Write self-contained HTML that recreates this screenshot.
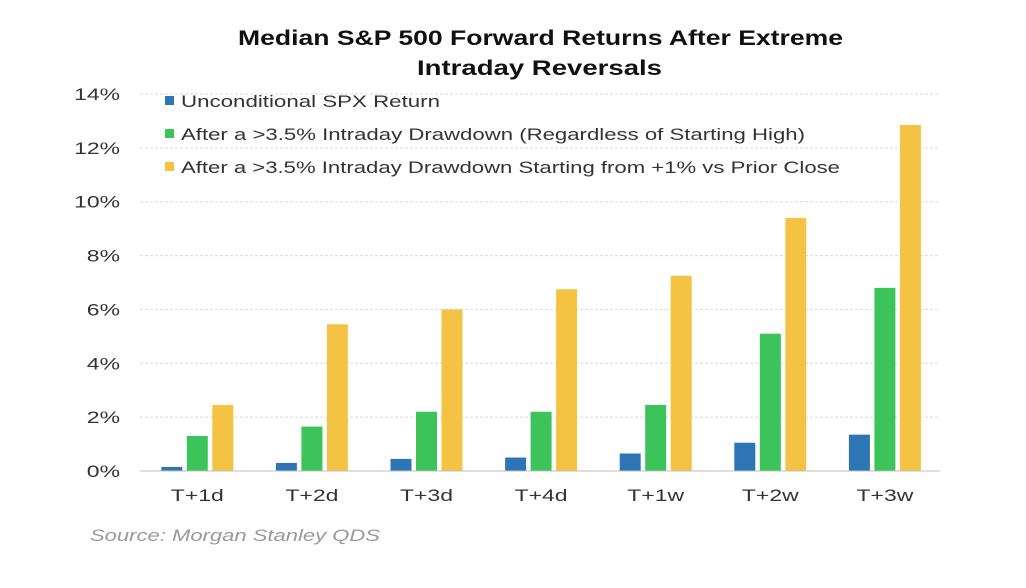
<!DOCTYPE html>
<html><head><meta charset="utf-8"><style>
html,body{margin:0;padding:0;background:#fff;}
svg{display:block;font-family:"Liberation Sans",Arial,sans-serif;}
</style></head><body>
<svg id="chart" width="1026" height="588" viewBox="0 0 1026 588">
<text x="238" y="45" font-size="21" font-weight="bold" fill="#111" textLength="605" lengthAdjust="spacingAndGlyphs">Median S&amp;P 500 Forward Returns After Extreme</text>
<text x="417" y="75" font-size="21" font-weight="bold" fill="#111" textLength="245" lengthAdjust="spacingAndGlyphs">Intraday Reversals</text>
<g id="grid"></g><g id="bars"></g><g id="axes"></g>
<g font-size="17" fill="#333">
<rect x="165" y="96" width="9" height="9" fill="#2e75b6"/>
<text x="181" y="107" textLength="259" lengthAdjust="spacingAndGlyphs">Unconditional SPX Return</text>
<rect x="165" y="129" width="9" height="9" fill="#3cc35a"/>
<text x="181" y="140" textLength="624" lengthAdjust="spacingAndGlyphs">After a &gt;3.5% Intraday Drawdown (Regardless of Starting High)</text>
<rect x="165" y="162" width="9" height="9" fill="#f5c343"/>
<text x="181" y="173" textLength="659" lengthAdjust="spacingAndGlyphs">After a &gt;3.5% Intraday Drawdown Starting from +1% vs Prior Close</text>
</g>
<text x="90" y="541" font-size="17" font-style="italic" fill="#999" textLength="290" lengthAdjust="spacingAndGlyphs">Source: Morgan Stanley QDS</text>
</svg>
<script>
const categories=["T+1d","T+2d","T+3d","T+4d","T+1w","T+2w","T+3w"];
const unconditional=[0.15,0.3,0.45,0.5,0.65,1.05,1.35];
const drawdown=[1.3,1.65,2.2,2.2,2.45,5.1,6.8];
const drawdownFromHigh=[2.45,5.45,6.0,6.75,7.25,9.4,12.85];
const yTicks=[0,2,4,6,8,10,12,14];
const NS="http://www.w3.org/2000/svg";
const x0=140,bandW=114.6,y0=471,yMax=14,yTop=94,xRight=940;
function y(v){return y0-(v/yMax)*(y0-yTop);}
function xBand(i){return x0+i*bandW;}
function mk(tag,attrs,parent){const e=document.createElementNS(NS,tag);for(const k in attrs)e.setAttribute(k,attrs[k]);parent.appendChild(e);return e;}
function stretch(t,f){const w=t.getComputedTextLength();t.setAttribute('textLength',(w*f).toFixed(1));t.setAttribute('lengthAdjust','spacingAndGlyphs');}
const grid=document.getElementById('grid'),bars=document.getElementById('bars'),axes=document.getElementById('axes');
yTicks.forEach(t=>{
  if(t>0){const l=mk('line',{x1:x0,x2:xRight,y1:y(t),y2:y(t),stroke:'#d9d9d9','stroke-width':1,'stroke-dasharray':'3,2'},grid);
  
  }
  const tx=mk('text',{x:120,y:y(t)+6,'text-anchor':'end','font-size':17,fill:'#333'},axes);
  tx.textContent=t+'%';
  
  
  stretch(tx,1.35);
});
const ax=mk('line',{x1:x0,x2:xRight,y1:y0,y2:y0,stroke:'#bfbfbf','stroke-width':1},axes);


const series=[[unconditional,'#2e75b6','unconditional'],[drawdown,'#3cc35a','drawdown'],[drawdownFromHigh,'#f5c343','drawdown-from-high']];
const bw=21,gap=4.5;
categories.forEach((c,i)=>{
  const cx=xBand(i)+bandW/2;
  series.forEach((s,j)=>{
    const v=s[0][i];
    const bx=cx-(3*bw+2*gap)/2+j*(bw+gap);
    const r=mk('rect',{x:bx,y:y(v),width:bw,height:y0-y(v),fill:s[1]},bars);
    
    
  });
  const t=mk('text',{x:cx,y:y0+30,'text-anchor':'middle','font-size':17,fill:'#333'},axes);
  t.textContent=c;
  
  
  stretch(t,1.35);
});
</script>
</body></html>
